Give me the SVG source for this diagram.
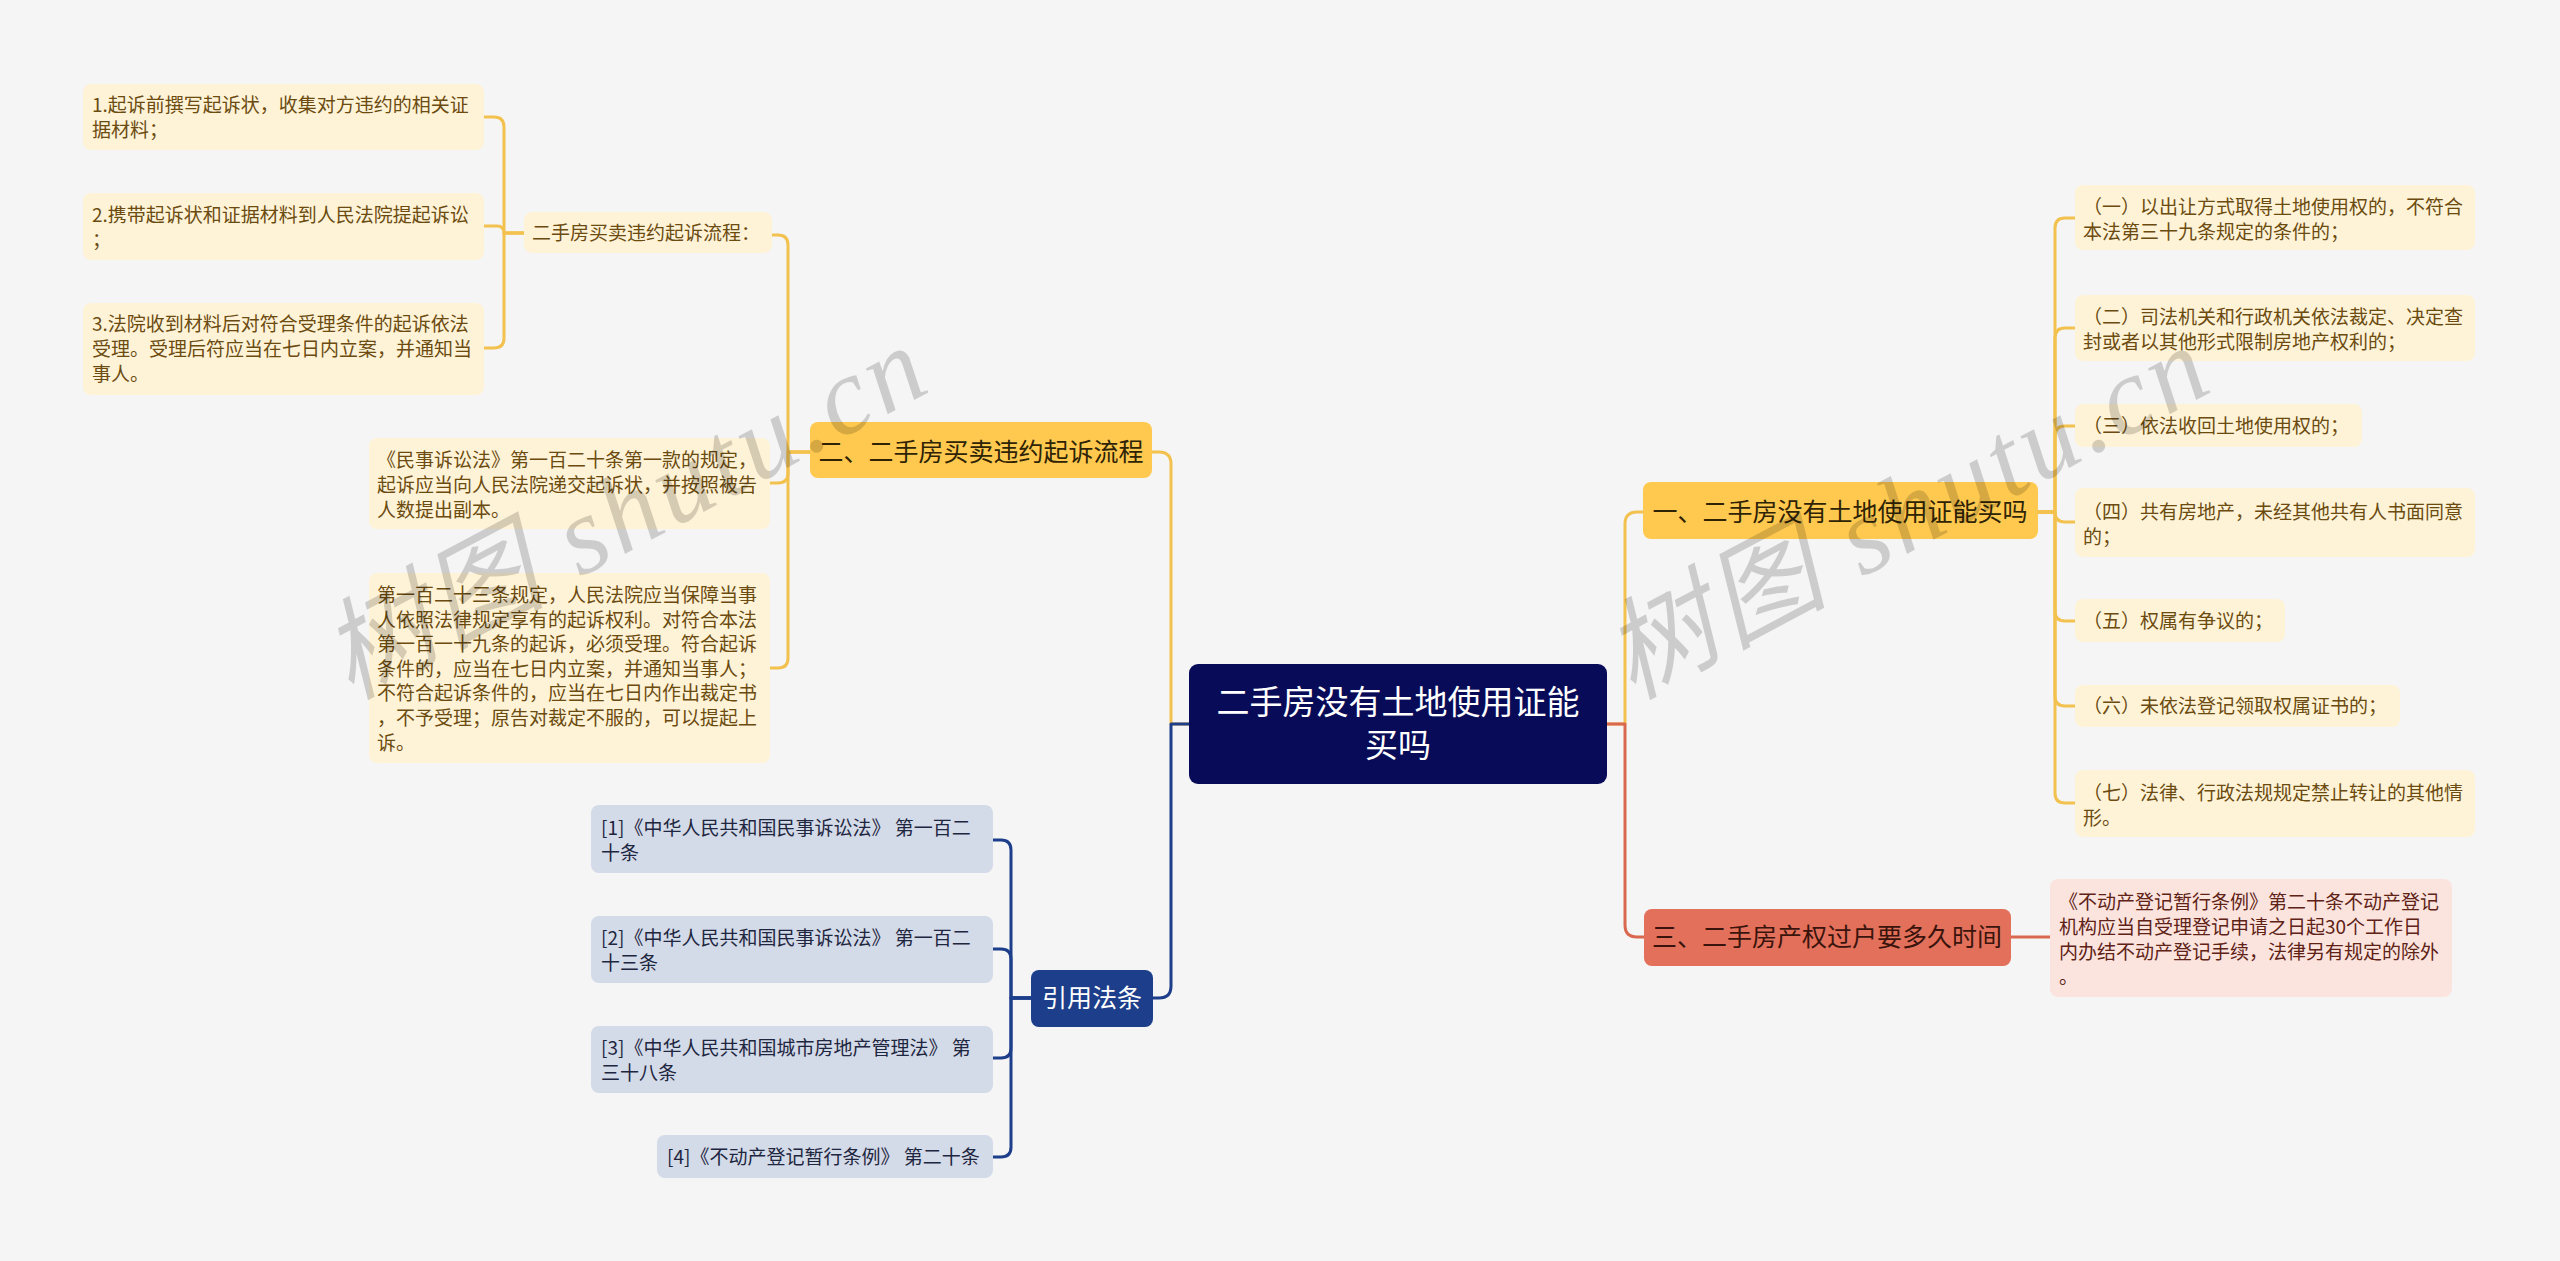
<svg xmlns="http://www.w3.org/2000/svg" width="2560" height="1261" viewBox="0 0 2560 1261">
<style>
text{font-family:"Noto Sans CJK SC","Liberation Sans",sans-serif;}
.ly rect{fill:#FFF3D7;}
.ly text{fill:#6B4B10;font-size:19px;}
.lp rect{fill:#FCE4DE;}
.lp text{fill:#5E2216;font-size:19px;}
.lb rect{fill:#D3DAE8;}
.lb text{fill:#1E2640;font-size:19px;}
.my rect{fill:#FFC94F;}
.my text{fill:#2E2305;font-size:25px;text-anchor:middle;}
.mr rect{fill:#E3705A;}
.mr text{fill:#3A140C;font-size:25px;text-anchor:middle;}
.mb rect{fill:#1D3E8A;}
.mb text{fill:#FFFFFF;font-size:25px;text-anchor:middle;}
.c{fill:none;stroke-width:3;stroke-linecap:round;stroke-linejoin:round;}
.cy{stroke:#F3C14E;}
.cr{stroke:#DA6850;}
.cb{stroke:#1D3E8A;}
.wm{font-family:"Liberation Serif","Noto Sans CJK SC",serif;font-style:italic;font-size:110px;fill:#000;opacity:0.16;}
</style>
<rect x="0" y="0" width="2560" height="1261" fill="#F5F5F5"/>

<g id="connectors">
  <path class="c cy" d="M1189,724 H1171 V464 Q1171,452 1159,452 H1152"/>
  <path class="c cb" d="M1189,724 H1171 V986 Q1171,998 1159,998 H1153"/>
  <path class="c cy" d="M1607,724 H1625 V524 Q1625,512 1637,512 H1643"/>
  <path class="c cr" d="M1607,724 H1625 V925 Q1625,937 1637,937 H1644"/>
  <path class="c cr" d="M2011,937 H2050"/>
  <g class="c cy">
    <path d="M2038,512 H2055 V228 Q2055,218 2065,218 H2075"/>
    <path d="M2038,512 H2055 V338 Q2055,328 2065,328 H2075"/>
    <path d="M2038,512 H2055 V436 Q2055,426 2065,426 H2075"/>
    <path d="M2038,512 H2055 V512 Q2055,522 2065,522 H2075"/>
    <path d="M2038,512 H2055 V611 Q2055,621 2065,621 H2075"/>
    <path d="M2038,512 H2055 V696 Q2055,706 2065,706 H2075"/>
    <path d="M2038,512 H2055 V793 Q2055,803 2065,803 H2075"/>
  </g>
  <g class="c cy">
    <path d="M810,452 H788 V245 Q788,235 778,235 H772"/>
    <path d="M810,452 H788 V473 Q788,483 778,483 H770"/>
    <path d="M810,452 H788 V658 Q788,668 778,668 H770"/>
  </g>
  <g class="c cy">
    <path d="M524,233 H504 V127 Q504,117 494,117 H484"/>
    <path d="M524,233 H504 V233 Q504,226 497,226 H484"/>
    <path d="M524,233 H504 V338 Q504,348 494,348 H484"/>
  </g>
  <g class="c cb">
    <path d="M1031,998 H1011 V850 Q1011,840 1001,840 H993"/>
    <path d="M1031,998 H1011 V959 Q1011,949 1001,949 H993"/>
    <path d="M1031,998 H1011 V1048 Q1011,1058 1001,1058 H993"/>
    <path d="M1031,998 H1011 V1147 Q1011,1157 1001,1157 H993"/>
  </g>
</g>

<g id="root">
  <rect x="1189" y="664" width="418" height="120" rx="9" fill="#080C58"/>
  <text x="1398" y="714" fill="#FFFFFF" font-size="33" text-anchor="middle">二手房没有土地使用证能</text>
  <text x="1398" y="757" fill="#FFFFFF" font-size="33" text-anchor="middle">买吗</text>
</g>

<g id="b1" class="my">
  <rect x="1643" y="482" width="395" height="57" rx="8"/>
  <text x="1840" y="521">一、二手房没有土地使用证能买吗</text>
</g>
<g id="b2" class="my">
  <rect x="810" y="422" width="342" height="56" rx="8"/>
  <text x="981" y="461">二、二手房买卖违约起诉流程</text>
</g>
<g id="b3" class="mr">
  <rect x="1644" y="909" width="367" height="57" rx="8"/>
  <text x="1827" y="946">三、二手房产权过户要多久时间</text>
</g>
<g id="b4" class="mb">
  <rect x="1031" y="970" width="122" height="57" rx="8"/>
  <text x="1092" y="1007">引用法条</text>
</g>

<g id="r1" class="ly">
  <rect x="2075" y="185" width="400" height="65" rx="8"/>
  <text x="2083" y="214">（一）以出让方式取得土地使用权的，不符合</text>
  <text x="2083" y="239">本法第三十九条规定的条件的；</text>
</g>
<g id="r2" class="ly">
  <rect x="2075" y="295" width="400" height="66" rx="8"/>
  <text x="2083" y="324">（二）司法机关和行政机关依法裁定、决定查</text>
  <text x="2083" y="349">封或者以其他形式限制房地产权利的；</text>
</g>
<g id="r3" class="ly">
  <rect x="2075" y="404" width="287" height="43" rx="8"/>
  <text x="2083" y="433">（三）依法收回土地使用权的；</text>
</g>
<g id="r4" class="ly">
  <rect x="2075" y="488" width="400" height="69" rx="8"/>
  <text x="2083" y="519">（四）共有房地产，未经其他共有人书面同意</text>
  <text x="2083" y="544">的；</text>
</g>
<g id="r5" class="ly">
  <rect x="2075" y="599" width="210" height="43" rx="8"/>
  <text x="2083" y="628">（五）权属有争议的；</text>
</g>
<g id="r6" class="ly">
  <rect x="2075" y="685" width="325" height="42" rx="8"/>
  <text x="2083" y="713">（六）未依法登记领取权属证书的；</text>
</g>
<g id="r7" class="ly">
  <rect x="2075" y="770" width="400" height="67" rx="8"/>
  <text x="2083" y="800">（七）法律、行政法规规定禁止转让的其他情</text>
  <text x="2083" y="825">形。</text>
</g>

<g id="p1" class="lp">
  <rect x="2050" y="879" width="402" height="118" rx="8"/>
  <text x="2059" y="909">《不动产登记暂行条例》第二十条不动产登记</text>
  <text x="2059" y="934">机构应当自受理登记申请之日起30个工作日</text>
  <text x="2059" y="959">内办结不动产登记手续，法律另有规定的除外</text>
  <text x="2059" y="984">。</text>
</g>

<g id="l1" class="ly">
  <rect x="524" y="212" width="248" height="41" rx="8"/>
  <text x="532" y="240">二手房买卖违约起诉流程：</text>
</g>
<g id="l2" class="ly">
  <rect x="369" y="438" width="401" height="91" rx="8"/>
  <text x="377" y="467">《民事诉讼法》第一百二十条第一款的规定，</text>
  <text x="377" y="492">起诉应当向人民法院递交起诉状，并按照被告</text>
  <text x="377" y="517">人数提出副本。</text>
</g>
<g id="l3" class="ly">
  <rect x="369" y="573" width="401" height="190" rx="8"/>
  <text x="377" y="602">第一百二十三条规定，人民法院应当保障当事</text>
  <text x="377" y="627">人依照法律规定享有的起诉权利。对符合本法</text>
  <text x="377" y="651">第一百一十九条的起诉，必须受理。符合起诉</text>
  <text x="377" y="676">条件的，应当在七日内立案，并通知当事人；</text>
  <text x="377" y="700">不符合起诉条件的，应当在七日内作出裁定书</text>
  <text x="377" y="725">，不予受理；原告对裁定不服的，可以提起上</text>
  <text x="377" y="750">诉。</text>
</g>
<g id="s1" class="ly">
  <rect x="83" y="84" width="401" height="66" rx="8"/>
  <text x="92" y="112">1.起诉前撰写起诉状，收集对方违约的相关证</text>
  <text x="92" y="137">据材料；</text>
</g>
<g id="s2" class="ly">
  <rect x="83" y="193" width="401" height="67" rx="8"/>
  <text x="92" y="222">2.携带起诉状和证据材料到人民法院提起诉讼</text>
  <text x="92" y="247">；</text>
</g>
<g id="s3" class="ly">
  <rect x="83" y="303" width="401" height="92" rx="8"/>
  <text x="92" y="331">3.法院收到材料后对符合受理条件的起诉依法</text>
  <text x="92" y="356">受理。受理后符应当在七日内立案，并通知当</text>
  <text x="92" y="381">事人。</text>
</g>

<g id="f1" class="lb">
  <rect x="591" y="805" width="402" height="68" rx="8"/>
  <text x="601" y="835">[1]《中华人民共和国民事诉讼法》 第一百二</text>
  <text x="601" y="860">十条</text>
</g>
<g id="f2" class="lb">
  <rect x="591" y="916" width="402" height="67" rx="8"/>
  <text x="601" y="945">[2]《中华人民共和国民事诉讼法》 第一百二</text>
  <text x="601" y="970">十三条</text>
</g>
<g id="f3" class="lb">
  <rect x="591" y="1026" width="402" height="67" rx="8"/>
  <text x="601" y="1055">[3]《中华人民共和国城市房地产管理法》 第</text>
  <text x="601" y="1080">三十八条</text>
</g>
<g id="f4" class="lb">
  <rect x="657" y="1135" width="336" height="43" rx="8"/>
  <text x="667" y="1164">[4]《不动产登记暂行条例》 第二十条</text>
</g>

<g id="watermarks">
  <text class="wm" transform="translate(350,700) rotate(-28)" textLength="660" lengthAdjust="spacing">树图 shutu.cn</text>
  <text class="wm" transform="translate(1632,700) rotate(-28)" textLength="660" lengthAdjust="spacing">树图 shutu.cn</text>
</g>
</svg>
